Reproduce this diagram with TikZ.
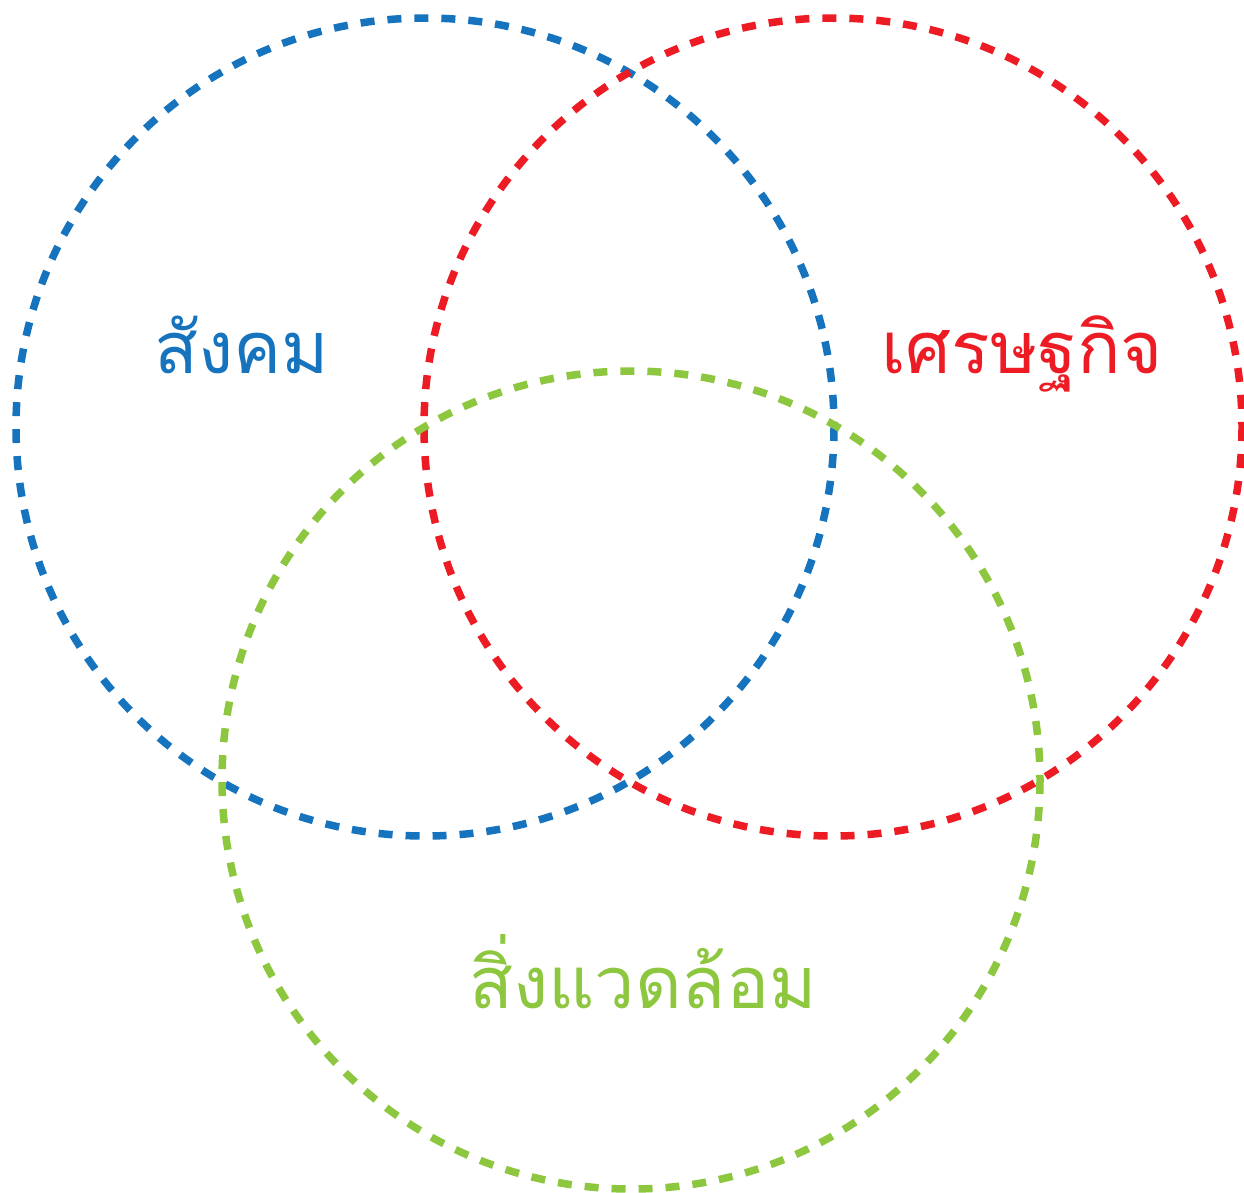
\documentclass[tikz,border=0pt]{standalone}
\usepackage{fontspec}
\newfontfamily\thaifont[Script=Thai]{Loma}
\definecolor{cblue}{HTML}{1673BE}
\definecolor{cred}{HTML}{ED1C24}
\definecolor{cgreen}{HTML}{8DC63F}
\begin{document}
\begin{tikzpicture}[x=1pt,y=-1pt,
  ring/.style={line width=7.5pt, dash pattern=on 14pt off 13pt},
  lbl/.style={font=\thaifont\fontsize{72}{74}\selectfont, anchor=base, inner sep=0pt}]
\useasboundingbox (0,0) rectangle (1244,1192);
\coordinate (cb) at (425,427);
\coordinate (cr) at (833,427);
\coordinate (cg) at (631,780);
\draw[ring, cblue] (cb) circle[radius=409];
\draw[ring, cred] (cr) circle[radius=409];
\draw[ring, cgreen] (cg) circle[radius=409];
\node[lbl, text=cblue] (tb) at (242,373) {สังคม};
\node[lbl, text=cred] (tr) at (1022,373) {เศรษฐกิจ};
\node[lbl, text=cgreen] (tg) at (643,1008) {สิ่งแวดล้อม};
\end{tikzpicture}
\end{document}
